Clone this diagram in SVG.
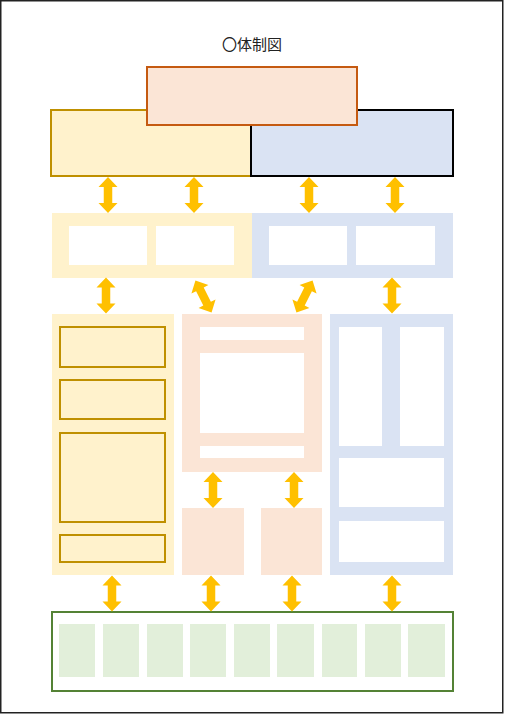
<svg xmlns="http://www.w3.org/2000/svg" xmlns:xlink="http://www.w3.org/1999/xlink" width="505" height="714" viewBox="0 0 505 714">
<style>
.y{fill:#FFF2CC}
.ys{fill:#FFF2CC;stroke:#BF9000;stroke-width:2}
.b{fill:#DAE3F3}
.p{fill:#FBE5D6}
.w{fill:#FFFFFF}
.g{fill:#E2EFDA}
.arr{fill:#FFC000}
</style>
<defs>
<path id="da" class="arr" d="M0,-18 L9.5,-8 L4.25,-8 L4.25,8 L9.5,8 L0,18 L-9.5,8 L-4.25,8 L-4.25,-8 L-9.5,-8 Z"/>
</defs>
<rect x="0" y="0" width="505" height="714" fill="#fff"/>
<rect x="0.75" y="0.75" width="502" height="712" fill="none" stroke="#222" stroke-width="1.5"/>
<text x="252" y="50" text-anchor="middle" font-family="'Noto Sans CJK JP', sans-serif" font-size="15" fill="#222">〇体制図</text>

<g id="top-left"><rect x="51" y="110" width="200" height="66" class="ys"/></g>
<g id="top-right"><rect x="251" y="110" width="202" height="66" fill="#DAE3F3" stroke="#000" stroke-width="2"/></g>
<g id="top-center"><rect x="147" y="67" width="210" height="58" fill="#FBE5D6" stroke="#C55A11" stroke-width="2"/></g>

<g id="row2-left">
<rect x="52" y="213" width="200" height="65" class="y"/>
<rect x="69" y="226" width="78" height="39" class="w"/>
<rect x="156" y="226" width="78" height="39" class="w"/>
</g>
<g id="row2-right">
<rect x="252" y="213" width="201" height="65" class="b"/>
<rect x="269" y="226" width="78" height="39" class="w"/>
<rect x="356" y="226" width="79" height="39" class="w"/>
</g>

<g id="col-yellow">
<rect x="52" y="314" width="122" height="261" class="y"/>
<rect x="60" y="327" width="105" height="40" class="ys"/>
<rect x="60" y="380" width="105" height="39" class="ys"/>
<rect x="60" y="433" width="105" height="89" class="ys"/>
<rect x="60" y="535" width="105" height="27" class="ys"/>
</g>
<g id="col-pink">
<rect x="182" y="314" width="140" height="158" class="p"/>
<rect x="200" y="327" width="104" height="13" class="w"/>
<rect x="200" y="353" width="104" height="80" class="w"/>
<rect x="200" y="446" width="104" height="12" class="w"/>
</g>
<g id="pink-sub1"><rect x="182" y="508" width="62" height="67" class="p"/></g>
<g id="pink-sub2"><rect x="261" y="508" width="61" height="67" class="p"/></g>
<g id="col-blue">
<rect x="330" y="314" width="123" height="261" class="b"/>
<rect x="339" y="327" width="43" height="119" class="w"/>
<rect x="400" y="327" width="44" height="119" class="w"/>
<rect x="339" y="458" width="105" height="49" class="w"/>
<rect x="339" y="521" width="105" height="41" class="w"/>
</g>

<g id="bottom">
<rect x="52" y="612" width="401" height="79" fill="#fff" stroke="#548235" stroke-width="2"/>
<rect x="59" y="624" width="36" height="53" class="g"/>
<rect x="103" y="624" width="36" height="53" class="g"/>
<rect x="147" y="624" width="36" height="53" class="g"/>
<rect x="190" y="624" width="36" height="53" class="g"/>
<rect x="234" y="624" width="36" height="53" class="g"/>
<rect x="277" y="624" width="37" height="53" class="g"/>
<rect x="322" y="624" width="35" height="53" class="g"/>
<rect x="365" y="624" width="36" height="53" class="g"/>
<rect x="408" y="624" width="37" height="53" class="g"/>
</g>

<g id="connectors">
<use xlink:href="#da" transform="translate(108,195)"/>
<use xlink:href="#da" transform="translate(194,195)"/>
<use xlink:href="#da" transform="translate(309,195)"/>
<use xlink:href="#da" transform="translate(395,195)"/>
<use xlink:href="#da" transform="translate(106,295.5)"/>
<use xlink:href="#da" transform="translate(203.5,296.5) rotate(-26.6)"/>
<use xlink:href="#da" transform="translate(304.5,296.5) rotate(26.6)"/>
<use xlink:href="#da" transform="translate(392,295.5)"/>
<use xlink:href="#da" transform="translate(213,490)"/>
<use xlink:href="#da" transform="translate(294,490)"/>
<use xlink:href="#da" transform="translate(112,593.5)"/>
<use xlink:href="#da" transform="translate(211,593.5)"/>
<use xlink:href="#da" transform="translate(292,593.5)"/>
<use xlink:href="#da" transform="translate(392,593.5)"/>
</g>
</svg>
